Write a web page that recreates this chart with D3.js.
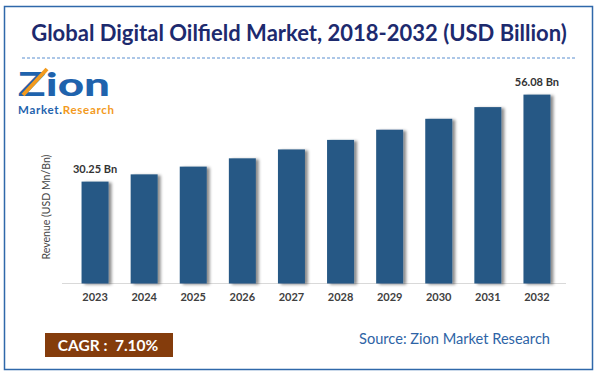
<!DOCTYPE html>
<html>
<head>
<meta charset="utf-8">
<script src="https://cdn.jsdelivr.net/npm/d3@7"></script>
<style>
  body { margin: 0; background: #fff; }
  svg { display: block; font-family: Lato, "Open Sans", sans-serif; }
</style>
</head>
<body>
<div id="chart"></div>
<script>
const years = ['2023', '2024', '2025', '2026', '2027', '2028', '2029', '2030', '2031', '2032'];
const revenue = [30.25, 32.4, 34.7, 37.16, 39.8, 42.63, 45.66, 48.9, 52.37, 56.08];
const valueLabels = ['30.25 Bn', '', '', '', '', '', '', '', '', '56.08 Bn'];

const data = years.map((y, i) => ({ year: y, value: revenue[i], label: valueLabels[i] }));

const width = 598;
const height = 377;

const svg = d3.select("#chart")
  .append("svg")
  .attr("width", width)
  .attr("height", height)
  .attr("viewBox", [0, 0, width, height]);

// shadow for the bars
const defs = svg.append("defs");
const f = defs.append("filter").attr("id", "shadow")
  .attr("x", "-20%").attr("y", "-10%").attr("width", "160%").attr("height", "130%");
f.append("feDropShadow")
  .attr("dx", 3).attr("dy", 1).attr("stdDeviation", 1.6)
  .attr("flood-color", "#000").attr("flood-opacity", 0.45);

// frame
svg.append("rect")
  .attr("x", 4.5).attr("y", 6.5)
  .attr("width", 588).attr("height", 363)
  .attr("fill", "#fff")
  .attr("stroke", "#2f68aa")
  .attr("stroke-width", 1.5);

// title
svg.append("text")
  .attr("x", 299).attr("y", 41)
  .attr("text-anchor", "middle")
  .attr("font-size", 22)
  .attr("font-weight", "bold")
  .attr("fill", "#1d2a6e")
  .text("Global Digital Oilfield Market, 2018-2032 (USD Billion)");

svg.append("line")
  .attr("x1", 22).attr("x2", 576)
  .attr("y1", 58).attr("y2", 58)
  .attr("stroke", "#5b8fd0")
  .attr("stroke-width", 1)
  .attr("stroke-dasharray", "3,2");

// logo (text approximation)
const logo = svg.append("g");
logo.append("text")
  .attr("x", 18).attr("y", 96)
  .attr("font-size", 33)
  .attr("font-weight", 900)
  .attr("textLength", 92)
  .attr("lengthAdjust", "spacingAndGlyphs")
  .attr("fill", "#1f63ad")
  .text("Zion");
logo.append("path")
  .attr("d", "M23,95 L47,69")
  .attr("stroke", "#f39a1d").attr("stroke-width", 4);
logo.append("text")
  .attr("x", 18).attr("y", 114)
  .attr("font-size", 11.5)
  .attr("font-weight", "bold")
  .attr("textLength", 96)
  .attr("fill", "#1f63ad")
  .text("Market.")
  .append("tspan")
  .attr("fill", "#f39a1d")
  .text("Research");

const x = d3.scaleBand()
  .domain(years)
  .range([70.5, 561.5])
  .paddingInner(0.45)
  .paddingOuter(0.225);

const y = d3.scaleLinear()
  .domain([0, 60])
  .range([283.5, 81.4]);

// axis line
svg.append("line")
  .attr("x1", 62).attr("x2", 566)
  .attr("y1", y(0)).attr("y2", y(0))
  .attr("stroke", "#d9d9d9");

svg.append("g")
  .selectAll("rect")
  .data(data)
  .join("rect")
  .attr("x", d => x(d.year))
  .attr("y", d => y(d.value))
  .attr("width", x.bandwidth())
  .attr("height", d => y(0) - y(d.value))
  .attr("fill", "#285985")
  .attr("filter", "url(#shadow)");

// x axis
svg.append("g")
  .attr("transform", `translate(0,${y(0)})`)
  .call(d3.axisBottom(x).tickSize(0).tickPadding(10))
  .call(g => g.select(".domain").remove())
  .call(g => g.selectAll("text")
    .attr("font-family", "Lato, sans-serif")
    .attr("font-size", 11)
    .attr("font-weight", "bold")
    .attr("fill", "#404040"));

// value labels
svg.append("g")
  .selectAll("text")
  .data(data.filter(d => d.label))
  .join("text")
  .attr("x", d => x(d.year) + x.bandwidth() / 2)
  .attr("y", d => y(d.value) - 9)
  .attr("text-anchor", "middle")
  .attr("font-size", 11)
  .attr("font-weight", "bold")
  .attr("fill", "#333")
  .text(d => d.label);

// y label
svg.append("text")
  .attr("transform", "translate(50,207) rotate(-90)")
  .attr("text-anchor", "middle")
  .attr("font-size", 10.5)
  .attr("fill", "#444")
  .text("Revenue (USD Mn/Bn)");

// CAGR box
svg.append("rect")
  .attr("x", 45).attr("y", 333)
  .attr("width", 128).attr("height", 24)
  .attr("fill", "#843c0c");
svg.append("text")
  .attr("x", 108).attr("y", 351)
  .attr("text-anchor", "middle")
  .attr("font-size", 15.5)
  .attr("font-weight", "bold")
  .attr("fill", "#fff")
  .style("white-space", "pre")
  .text("CAGR :  7.10%");

svg.append("text")
  .attr("x", 550).attr("y", 344)
  .attr("text-anchor", "end")
  .attr("font-size", 14.6)
  .attr("fill", "#2e64a6")
  .text("Source: Zion Market Research");
</script>
</body>
</html>
